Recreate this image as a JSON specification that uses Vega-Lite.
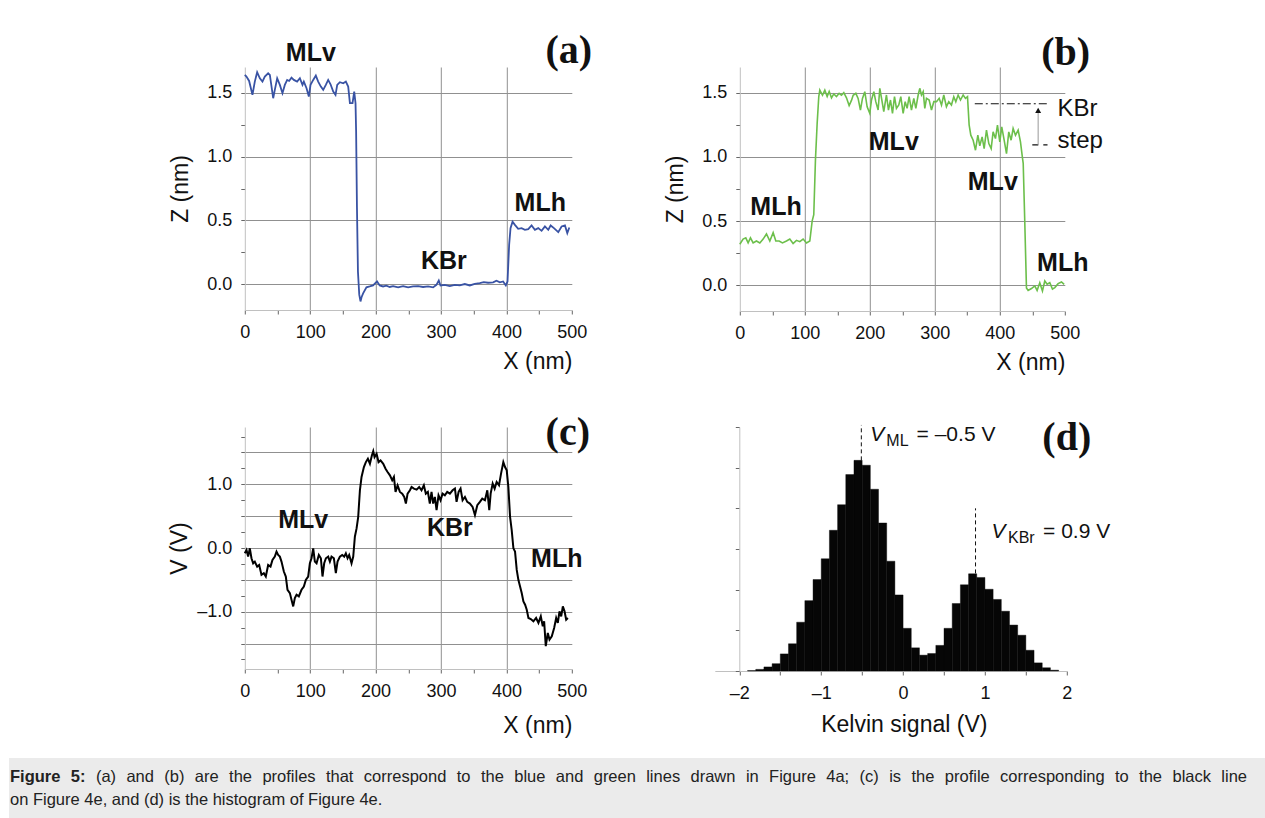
{
 "$schema": "https://vega.github.io/schema/vega-lite/v6.json",
 "background": "white",
 "padding": {"left": 9, "top": 30, "right": 0, "bottom": 0},
 "config": {
  "view": {"stroke": null},
  "font": "Liberation Sans",
  "text": {"align": "left", "baseline": "middle", "fontSize": 16.5, "color": "#222"},
  "axis": {"labelFont": "Liberation Sans", "labelFontSize": 18, "labelColor": "#111", "labelPadding": 9, "labelFlush": false, "labelOverlap": false,
           "titleFont": "Liberation Sans", "titleFontSize": 23, "titleFontWeight": "normal", "titleColor": "#111",
           "tickSize": 4, "tickColor": "#666", "domainColor": "#c0c0c0", "gridColor": "#909090", "gridWidth": 1}
 },
 "datasets": {
  "a": [{"x":0,"y":1.638},{"x":2.5,"y":1.625},{"x":6.6,"y":1.591},{"x":11.7,"y":1.482},{"x":15.3,"y":1.586},{"x":18.9,"y":1.659},{"x":23,"y":1.612},{"x":27,"y":1.586},{"x":30.6,"y":1.625},{"x":35.7,"y":1.651},{"x":38.3,"y":1.638},{"x":43.4,"y":1.456},{"x":45.9,"y":1.521},{"x":49.5,"y":1.612},{"x":53.6,"y":1.56},{"x":57.6,"y":1.495},{"x":61.2,"y":1.56},{"x":64.8,"y":1.599},{"x":67.8,"y":1.591},{"x":71.4,"y":1.617},{"x":75,"y":1.599},{"x":80,"y":1.586},{"x":84.2,"y":1.612},{"x":88.2,"y":1.56},{"x":90.3,"y":1.586},{"x":94.4,"y":1.534},{"x":97.9,"y":1.469},{"x":100.5,"y":1.56},{"x":104.6,"y":1.599},{"x":108.6,"y":1.633},{"x":112.2,"y":1.586},{"x":116.3,"y":1.547},{"x":119.9,"y":1.521},{"x":123.9,"y":1.56},{"x":127.5,"y":1.599},{"x":131.1,"y":1.565},{"x":135.2,"y":1.508},{"x":138.7,"y":1.482},{"x":141.3,"y":1.56},{"x":145.4,"y":1.581},{"x":150.5,"y":1.573},{"x":154.5,"y":1.586},{"x":158.1,"y":1.547},{"x":160.7,"y":1.417},{"x":164.7,"y":1.417},{"x":167.3,"y":1.508},{"x":169.3,"y":1.417},{"x":170.2,"y":1.2},{"x":171.5,"y":0.6},{"x":173,"y":0.1},{"x":175,"y":-0.08},{"x":176.9,"y":-0.133},{"x":178.5,"y":-0.1},{"x":180.9,"y":-0.07},{"x":186,"y":-0.023},{"x":191,"y":-0.016},{"x":196.1,"y":-0.008},{"x":202.2,"y":0.023},{"x":206.3,"y":-0.008},{"x":211.4,"y":-0.016},{"x":216.5,"y":-0.01},{"x":221.6,"y":-0.02},{"x":226.7,"y":-0.013},{"x":234.4,"y":-0.023},{"x":242,"y":-0.013},{"x":249.7,"y":-0.023},{"x":257.3,"y":-0.016},{"x":265,"y":-0.013},{"x":272.6,"y":-0.02},{"x":280.3,"y":-0.016},{"x":287.9,"y":-0.023},{"x":293,"y":-0.003},{"x":296.6,"y":0.031},{"x":299.2,"y":-0.008},{"x":305.8,"y":-0.003},{"x":313.5,"y":-0.013},{"x":321.1,"y":-0.003},{"x":328.7,"y":-0.008},{"x":336.4,"y":0.003},{"x":344,"y":-0.008},{"x":351.6,"y":0.005},{"x":359.3,"y":0.01},{"x":365.4,"y":0.018},{"x":372,"y":0.013},{"x":379.7,"y":0.016},{"x":384.8,"y":0.029},{"x":389.9,"y":0.016},{"x":395,"y":0.023},{"x":399.1,"y":-0.008},{"x":401.7,"y":0.023},{"x":404.2,"y":0.31},{"x":406.3,"y":0.44},{"x":409.4,"y":0.49},{"x":413,"y":0.466},{"x":418,"y":0.435},{"x":423.2,"y":0.44},{"x":428.3,"y":0.427},{"x":433.4,"y":0.432},{"x":438.5,"y":0.461},{"x":443.6,"y":0.427},{"x":448.7,"y":0.44},{"x":453.8,"y":0.419},{"x":458.9,"y":0.453},{"x":464,"y":0.427},{"x":467.6,"y":0.461},{"x":472.7,"y":0.44},{"x":479.3,"y":0.409},{"x":484.4,"y":0.453},{"x":489.5,"y":0.461},{"x":493.1,"y":0.401},{"x":496.2,"y":0.445}],
  "b": [{"x":0,"y":0.32},{"x":5.1,"y":0.36},{"x":9.2,"y":0.37},{"x":12.8,"y":0.33},{"x":16.4,"y":0.37},{"x":20.5,"y":0.33},{"x":25.6,"y":0.345},{"x":30.8,"y":0.33},{"x":35.9,"y":0.36},{"x":41,"y":0.4},{"x":46.2,"y":0.345},{"x":51.3,"y":0.41},{"x":55.4,"y":0.345},{"x":60.5,"y":0.345},{"x":65.6,"y":0.33},{"x":71.8,"y":0.345},{"x":76.9,"y":0.36},{"x":82,"y":0.325},{"x":87.2,"y":0.35},{"x":92.3,"y":0.34},{"x":97.4,"y":0.36},{"x":102.6,"y":0.33},{"x":107.7,"y":0.345},{"x":111.3,"y":0.5},{"x":113.8,"y":0.55},{"x":116.4,"y":0.98},{"x":119,"y":1.26},{"x":121.5,"y":1.47},{"x":123.1,"y":1.52},{"x":127.2,"y":1.48},{"x":130.8,"y":1.52},{"x":134.4,"y":1.47},{"x":137.5,"y":1.51},{"x":141.1,"y":1.46},{"x":144.6,"y":1.49},{"x":148.7,"y":1.47},{"x":152.8,"y":1.495},{"x":156.4,"y":1.48},{"x":160,"y":1.5},{"x":164.1,"y":1.46},{"x":168.2,"y":1.4},{"x":171.8,"y":1.44},{"x":174.4,"y":1.48},{"x":178.5,"y":1.495},{"x":182,"y":1.455},{"x":185.6,"y":1.365},{"x":188.7,"y":1.455},{"x":192.3,"y":1.508},{"x":195.9,"y":1.39},{"x":200,"y":1.339},{"x":202.6,"y":1.443},{"x":206.2,"y":1.508},{"x":209.2,"y":1.43},{"x":212.8,"y":1.365},{"x":215.4,"y":1.534},{"x":218.5,"y":1.443},{"x":221.5,"y":1.352},{"x":225.6,"y":1.482},{"x":228.7,"y":1.365},{"x":231.8,"y":1.443},{"x":234.9,"y":1.339},{"x":238,"y":1.469},{"x":241,"y":1.378},{"x":244.6,"y":1.404},{"x":247.7,"y":1.469},{"x":251.3,"y":1.339},{"x":254.4,"y":1.43},{"x":257.4,"y":1.378},{"x":260.5,"y":1.469},{"x":264.1,"y":1.365},{"x":267.7,"y":1.456},{"x":270.8,"y":1.378},{"x":274.4,"y":1.482},{"x":276.9,"y":1.534},{"x":279.5,"y":1.482},{"x":282.1,"y":1.508},{"x":284.6,"y":1.378},{"x":287.2,"y":1.456},{"x":291.3,"y":1.443},{"x":294.9,"y":1.365},{"x":298.5,"y":1.43},{"x":302.6,"y":1.43},{"x":306.7,"y":1.456},{"x":310.3,"y":1.404},{"x":313.8,"y":1.482},{"x":317.9,"y":1.391},{"x":321.5,"y":1.43},{"x":325.6,"y":1.404},{"x":329.2,"y":1.469},{"x":332.3,"y":1.43},{"x":335.9,"y":1.482},{"x":339.5,"y":1.443},{"x":343.6,"y":1.482},{"x":347.2,"y":1.456},{"x":350.3,"y":1.469},{"x":352.8,"y":1.25},{"x":355.4,"y":1.169},{"x":359,"y":1.13},{"x":362.6,"y":1.052},{"x":366.2,"y":1.169},{"x":369.2,"y":1.086},{"x":372.8,"y":1.156},{"x":375.9,"y":1.065},{"x":379.5,"y":1.208},{"x":383.1,"y":1.104},{"x":386.7,"y":1.065},{"x":389.7,"y":1.195},{"x":393.3,"y":1.143},{"x":396.4,"y":1.247},{"x":400,"y":1.117},{"x":403,"y":1.234},{"x":406.7,"y":1.13},{"x":410.3,"y":1.026},{"x":413.8,"y":1.195},{"x":417.4,"y":1.13},{"x":420.5,"y":1.221},{"x":424.1,"y":1.169},{"x":428.2,"y":1.208},{"x":431.8,"y":1.117},{"x":434.9,"y":0.99},{"x":436,"y":0.95},{"x":438.5,"y":0.478},{"x":441,"y":-0.02},{"x":443.6,"y":-0.04},{"x":448.7,"y":-0.025},{"x":453.8,"y":-0.005},{"x":457.4,"y":-0.04},{"x":461.5,"y":0.02},{"x":465.6,"y":-0.044},{"x":469.2,"y":0.034},{"x":472.8,"y":0.008},{"x":476.9,"y":0.02},{"x":481,"y":-0.03},{"x":484.6,"y":-0.018},{"x":489.7,"y":0.013},{"x":494.9,"y":0.026},{"x":499,"y":0.008}],
  "c": [{"x":0,"y":-0.083},{"x":2.6,"y":-0.031},{"x":5.1,"y":-0.135},{"x":7.7,"y":-0.005},{"x":10.2,"y":-0.161},{"x":12.8,"y":-0.24},{"x":15.3,"y":-0.214},{"x":18.9,"y":-0.292},{"x":22,"y":-0.266},{"x":25.5,"y":-0.422},{"x":29.1,"y":-0.396},{"x":32.1,"y":-0.448},{"x":35.7,"y":-0.266},{"x":39.3,"y":-0.292},{"x":42.3,"y":-0.188},{"x":45.9,"y":-0.135},{"x":48.5,"y":-0.057},{"x":51,"y":-0.109},{"x":53.6,"y":-0.135},{"x":56.1,"y":-0.214},{"x":59.7,"y":-0.37},{"x":62.7,"y":-0.448},{"x":65.3,"y":-0.656},{"x":68.9,"y":-0.708},{"x":71.4,"y":-0.813},{"x":74,"y":-0.917},{"x":76.5,"y":-0.786},{"x":79.1,"y":-0.734},{"x":82.6,"y":-0.76},{"x":86.7,"y":-0.656},{"x":90.3,"y":-0.604},{"x":93.3,"y":-0.5},{"x":96.9,"y":-0.448},{"x":99.5,"y":-0.24},{"x":102,"y":-0.161},{"x":104.6,"y":-0.005},{"x":107.1,"y":-0.214},{"x":109.7,"y":-0.24},{"x":113.2,"y":-0.109},{"x":116.3,"y":-0.161},{"x":118.8,"y":-0.448},{"x":121.4,"y":-0.24},{"x":124,"y":-0.161},{"x":127.5,"y":-0.135},{"x":130.1,"y":-0.214},{"x":132.6,"y":-0.135},{"x":136.2,"y":-0.161},{"x":139.2,"y":-0.396},{"x":141.8,"y":-0.214},{"x":145.4,"y":-0.135},{"x":148.9,"y":-0.109},{"x":152,"y":-0.135},{"x":154.5,"y":-0.083},{"x":157.1,"y":-0.161},{"x":159.6,"y":-0.109},{"x":163.2,"y":-0.24},{"x":165.8,"y":-0.135},{"x":168.3,"y":0.177},{"x":170.9,"y":0.307},{"x":173.4,"y":0.49},{"x":176,"y":0.906},{"x":178.5,"y":1.115},{"x":182.1,"y":1.271},{"x":185.1,"y":1.349},{"x":188.2,"y":1.401},{"x":191.3,"y":1.323},{"x":194.3,"y":1.453},{"x":196.4,"y":1.521},{"x":198.4,"y":1.427},{"x":201.5,"y":1.479},{"x":204.5,"y":1.349},{"x":207.6,"y":1.375},{"x":211.7,"y":1.323},{"x":215.2,"y":1.245},{"x":218.3,"y":1.193},{"x":221.9,"y":1.141},{"x":225.4,"y":1.063},{"x":228,"y":1.115},{"x":230.5,"y":0.88},{"x":233.6,"y":0.984},{"x":237.2,"y":0.88},{"x":240.7,"y":0.854},{"x":243.8,"y":0.802},{"x":246.3,"y":0.698},{"x":248.9,"y":0.854},{"x":252.5,"y":0.906},{"x":255,"y":0.958},{"x":258.6,"y":0.932},{"x":262.7,"y":0.917},{"x":266.6,"y":0.958},{"x":270.2,"y":0.906},{"x":273.8,"y":0.984},{"x":276.8,"y":0.854},{"x":279.9,"y":0.88},{"x":282.9,"y":0.698},{"x":285.5,"y":0.88},{"x":288,"y":0.698},{"x":290.6,"y":0.802},{"x":293.2,"y":0.594},{"x":296.2,"y":0.828},{"x":299.3,"y":0.75},{"x":302.4,"y":0.854},{"x":305.9,"y":0.828},{"x":309.5,"y":0.88},{"x":313.6,"y":0.854},{"x":317.7,"y":0.906},{"x":321.3,"y":0.932},{"x":323.8,"y":0.724},{"x":326.9,"y":0.88},{"x":329.9,"y":0.932},{"x":333,"y":0.75},{"x":336.6,"y":0.802},{"x":340.1,"y":0.724},{"x":344.2,"y":0.698},{"x":348.3,"y":0.646},{"x":351.9,"y":0.516},{"x":355.5,"y":0.672},{"x":359.5,"y":0.724},{"x":363.1,"y":0.776},{"x":367.2,"y":0.75},{"x":370.8,"y":0.906},{"x":373.8,"y":0.594},{"x":375.9,"y":0.854},{"x":379,"y":1.011},{"x":382,"y":0.932},{"x":385.1,"y":1.036},{"x":388.7,"y":0.984},{"x":391.8,"y":1.167},{"x":395.3,"y":1.349},{"x":397.9,"y":1.271},{"x":400.5,"y":1.219},{"x":403,"y":0.958},{"x":405.6,"y":0.49},{"x":408.1,"y":0.281},{"x":410.7,"y":-0.005},{"x":413.2,"y":-0.057},{"x":415.8,"y":-0.344},{"x":418.3,"y":-0.5},{"x":420.9,"y":-0.604},{"x":423.4,"y":-0.708},{"x":426,"y":-0.839},{"x":428.6,"y":-0.891},{"x":431.1,"y":-0.969},{"x":433.7,"y":-1.099},{"x":437.3,"y":-1.115},{"x":441.3,"y":-1.151},{"x":445.4,"y":-1.099},{"x":449,"y":-1.177},{"x":452.6,"y":-1.073},{"x":455.6,"y":-1.229},{"x":457.7,"y":-1.151},{"x":460.2,"y":-1.542},{"x":463.3,"y":-1.333},{"x":465.9,"y":-1.438},{"x":469.4,"y":-1.385},{"x":473,"y":-1.255},{"x":476.1,"y":-1.099},{"x":478.6,"y":-1.177},{"x":481.2,"y":-0.995},{"x":483.8,"y":-1.073},{"x":486.3,"y":-0.917},{"x":488.9,"y":-0.995},{"x":491.4,"y":-1.125},{"x":494,"y":-1.099}],
  "hist": [{"x":-1.9,"x2":-1.8,"y":0.01},{"x":-1.8,"x2":-1.7,"y":0.04},{"x":-1.7,"x2":-1.6,"y":0.10},{"x":-1.6,"x2":-1.5,"y":0.18},{"x":-1.5,"x2":-1.4,"y":0.42},{"x":-1.4,"x2":-1.3,"y":0.67},{"x":-1.3,"x2":-1.2,"y":1.20},{"x":-1.2,"x2":-1.1,"y":1.73},{"x":-1.1,"x2":-1.0,"y":2.25},{"x":-1.0,"x2":-0.9,"y":2.76},{"x":-0.9,"x2":-0.8,"y":3.46},{"x":-0.8,"x2":-0.7,"y":4.09},{"x":-0.7,"x2":-0.6,"y":4.83},{"x":-0.6,"x2":-0.5,"y":5.18},{"x":-0.5,"x2":-0.4,"y":5.06},{"x":-0.4,"x2":-0.3,"y":4.47},{"x":-0.3,"x2":-0.2,"y":3.64},{"x":-0.2,"x2":-0.1,"y":2.70},{"x":-0.1,"x2":0.0,"y":1.87},{"x":0.0,"x2":0.1,"y":1.05},{"x":0.1,"x2":0.2,"y":0.57},{"x":0.2,"x2":0.3,"y":0.39},{"x":0.3,"x2":0.4,"y":0.43},{"x":0.4,"x2":0.5,"y":0.63},{"x":0.5,"x2":0.6,"y":1.05},{"x":0.6,"x2":0.7,"y":1.66},{"x":0.7,"x2":0.8,"y":2.12},{"x":0.8,"x2":0.9,"y":2.39},{"x":0.9,"x2":1.0,"y":2.30},{"x":1.0,"x2":1.1,"y":2.01},{"x":1.1,"x2":1.2,"y":1.76},{"x":1.2,"x2":1.3,"y":1.47},{"x":1.3,"x2":1.4,"y":1.13},{"x":1.4,"x2":1.5,"y":0.88},{"x":1.5,"x2":1.6,"y":0.51},{"x":1.6,"x2":1.7,"y":0.20},{"x":1.7,"x2":1.8,"y":0.08},{"x":1.8,"x2":1.9,"y":0.02}],
  "cap": [{"line":1,"k":"w0","t":"Figure"},{"line":1,"k":"w1","t":"5:"},{"line":1,"k":"w2","t":"(a)"},{"line":1,"k":"w3","t":"and"},{"line":1,"k":"w4","t":"(b)"},{"line":1,"k":"w5","t":"are"},{"line":1,"k":"w6","t":"the"},{"line":1,"k":"w7","t":"profiles"},{"line":1,"k":"w8","t":"that"},{"line":1,"k":"w9","t":"correspond"},{"line":1,"k":"w10","t":"to"},{"line":1,"k":"w11","t":"the"},{"line":1,"k":"w12","t":"blue"},{"line":1,"k":"w13","t":"and"},{"line":1,"k":"w14","t":"green"},{"line":1,"k":"w15","t":"lines"},{"line":1,"k":"w16","t":"drawn"},{"line":1,"k":"w17","t":"in"},{"line":1,"k":"w18","t":"Figure"},{"line":1,"k":"w19","t":"4a;"},{"line":1,"k":"w20","t":"(c)"},{"line":1,"k":"w21","t":"is"},{"line":1,"k":"w22","t":"the"},{"line":1,"k":"w23","t":"profile"},{"line":1,"k":"w24","t":"corresponding"},{"line":1,"k":"w25","t":"to"},{"line":1,"k":"w26","t":"the"},{"line":1,"k":"w27","t":"black"},{"line":1,"k":"w28","t":"line"},{"line":2,"k":"r2","t":"on Figure 4e, and (d) is the histogram of Figure 4e."}]
 },
 "spacing": 21,
 "center": true,
 "vconcat": [
  {
   "spacing": 38,
   "vconcat": [
    {
     "bounds": "flush",
     "spacing": 168,
     "hconcat": [
      {
       "width": 327, "height": 243,
       "encoding": {
        "x": {"field": "x", "type": "quantitative", "scale": {"domain": [0, 500], "nice": false, "zero": false},
              "axis": {"values": [0,50,100,150,200,250,300,350,400,450,500], "labelExpr": "datum.value % 100 == 0 ? datum.label : ''", "grid": true,
                       "gridOpacity": {"condition": {"test": "datum.value % 100 != 0 || datum.value == 0 || datum.value == 500", "value": 0}, "value": 1},
                       "title": "X (nm)", "titleAnchor": "end", "titlePadding": 9}},
        "y": {"field": "y", "type": "quantitative", "scale": {"domain": [-0.2, 1.7], "nice": false, "zero": false},
              "axis": {"values": [0,0.25,0.5,0.75,1,1.25,1.5], "labelExpr": "datum.value % 0.5 == 0 ? format(datum.value, '.1f') : ''", "grid": true,
                       "gridOpacity": {"condition": {"test": "datum.value % 0.5 != 0", "value": 0}, "value": 1},
                       "title": "Z (nm)", "titlePadding": 14}}
       },
       "layer": [
        {"data": {"name": "a"}, "mark": {"type": "line", "color": "#3953a4", "strokeWidth": 1.8}},
        {"data": {"values": [{"x": 101, "y": 1.807, "t": "MLv"}, {"x": 304.3, "y": 0.18, "t": "KBr"}, {"x": 451.8, "y": 0.64, "t": "MLh"}]},
         "mark": {"type": "text", "fontSize": 25, "fontWeight": "bold", "baseline": "middle", "align": "center", "color": "#111"},
         "encoding": {"text": {"field": "t"}}},
        {"data": {"values": [{"x": 495.4, "y": 1.828, "t": "(a)"}]},
         "mark": {"type": "text", "font": "Liberation Serif", "fontSize": 40, "fontWeight": "bold", "baseline": "middle", "align": "center", "color": "#111"},
         "encoding": {"text": {"field": "t"}}}
       ]
      },
      {
       "width": 325, "height": 244,
       "encoding": {
        "x": {"field": "x", "type": "quantitative", "scale": {"domain": [0, 500], "nice": false, "zero": false},
              "axis": {"values": [0,50,100,150,200,250,300,350,400,450,500], "labelExpr": "datum.value % 100 == 0 ? datum.label : ''", "grid": true,
                       "gridOpacity": {"condition": {"test": "datum.value % 100 != 0 || datum.value == 0 || datum.value == 500", "value": 0}, "value": 1},
                       "title": "X (nm)", "titleAnchor": "end", "titlePadding": 9}},
        "y": {"field": "y", "type": "quantitative", "scale": {"domain": [-0.2, 1.7], "nice": false, "zero": false},
              "axis": {"values": [0,0.25,0.5,0.75,1,1.25,1.5], "labelExpr": "datum.value % 0.5 == 0 ? format(datum.value, '.1f') : ''", "grid": true,
                       "gridOpacity": {"condition": {"test": "datum.value % 0.5 != 0", "value": 0}, "value": 1},
                       "title": "Z (nm)", "titlePadding": 14}}
       },
       "layer": [
        {"data": {"name": "b"}, "mark": {"type": "line", "color": "#6cbf4b", "strokeWidth": 1.6}},
        {"data": {"values": [{"x": 361.5, "x2": 474.4, "y": 1.414}]}, "mark": {"type": "rule", "color": "#111", "strokeWidth": 1.2, "strokeDash": [8, 3, 2, 3]}, "encoding": {"x2": {"field": "x2"}}},
        {"data": {"values": [{"x": 450, "x2": 473.4, "y": 1.094}]}, "mark": {"type": "rule", "color": "#111", "strokeWidth": 1.2, "strokeDash": [6, 5]}, "encoding": {"x2": {"field": "x2"}}},
        {"data": {"values": [{"x": 459, "y": 1.094, "y2": 1.36}]}, "mark": {"type": "rule", "color": "#999", "strokeWidth": 1}, "encoding": {"y2": {"field": "y2"}}},
        {"data": {"values": [{"x": 459, "y": 1.362}]}, "mark": {"type": "point", "shape": "triangle-up", "filled": true, "size": 35, "color": "#111", "opacity": 1}, "encoding": {}},
        {"data": {"values": [{"x": 55.7, "y": 0.607, "t": "MLh"}, {"x": 236.9, "y": 1.115, "t": "MLv"}, {"x": 389.2, "y": 0.802, "t": "MLv"}, {"x": 496.9, "y": 0.172, "t": "MLh"}]},
         "mark": {"type": "text", "fontSize": 25, "fontWeight": "bold", "baseline": "middle", "align": "center", "color": "#111"},
         "encoding": {"text": {"field": "t"}}},
        {"data": {"values": [{"x": 488.7, "y": 1.375, "t": "KBr"}, {"x": 488.7, "y": 1.125, "t": "step"}]},
         "mark": {"type": "text", "fontSize": 24, "baseline": "middle", "align": "left", "color": "#111"},
         "encoding": {"text": {"field": "t"}}},
        {"data": {"values": [{"x": 501.3, "y": 1.8125, "t": "(b)"}]},
         "mark": {"type": "text", "font": "Liberation Serif", "fontSize": 40, "fontWeight": "bold", "baseline": "middle", "align": "center", "color": "#111"},
         "encoding": {"text": {"field": "t"}}}
       ]
      }
     ]
    },
    {
     "bounds": "flush",
     "spacing": 143,
     "hconcat": [
      {
       "width": 327, "height": 242,
       "encoding": {
        "x": {"field": "x", "type": "quantitative", "scale": {"domain": [0, 500], "nice": false, "zero": false},
              "axis": {"values": [0,50,100,150,200,250,300,350,400,450,500], "labelExpr": "datum.value % 100 == 0 ? datum.label : ''", "grid": true,
                       "gridOpacity": {"condition": {"test": "datum.value % 100 != 0 || datum.value == 0 || datum.value == 500", "value": 0}, "value": 1},
                       "title": "X (nm)", "titleAnchor": "end", "titlePadding": 14}},
        "y": {"field": "y", "type": "quantitative", "scale": {"domain": [-1.9, 1.9], "nice": false, "zero": false},
              "axis": {"values": [-1.75,-1.5,-1.25,-1,-0.75,-0.5,-0.25,0,0.25,0.5,0.75,1,1.25,1.5,1.75],
                       "labelExpr": "datum.value % 1 == 0 ? (datum.value < 0 ? '–' : '') + format(abs(datum.value), '.1f') : ''", "grid": true,
                       "gridOpacity": {"condition": {"test": "datum.value % 0.5 != 0", "value": 0}, "value": 1},
                       "title": "V (V)", "titlePadding": 5}}
       },
       "layer": [
        {"data": {"name": "c"}, "mark": {"type": "line", "color": "#000", "strokeWidth": 2}},
        {"data": {"values": [{"x": 89.2, "y": 0.4375, "t": "MLv"}, {"x": 313.5, "y": 0.307, "t": "KBr"}, {"x": 477, "y": -0.17, "t": "MLh"}]},
         "mark": {"type": "text", "fontSize": 25, "fontWeight": "bold", "baseline": "middle", "align": "center", "color": "#111"},
         "encoding": {"text": {"field": "t"}}},
        {"data": {"values": [{"x": 493.9, "y": 1.806, "t": "(c)"}]},
         "mark": {"type": "text", "font": "Liberation Serif", "fontSize": 40, "fontWeight": "bold", "baseline": "middle", "align": "center", "color": "#111"},
         "encoding": {"text": {"field": "t"}}}
       ]
      },
      {
       "width": 352, "height": 244,
       "encoding": {
        "x": {"field": "x", "type": "quantitative", "scale": {"domain": [-2.3, 2.0], "nice": false, "zero": false},
              "axis": {"values": [-2,-1.5,-1,-0.5,0,0.5,1,1.5,2],
                       "labelExpr": "datum.value % 1 == 0 ? (datum.value < 0 ? '–' : '') + format(abs(datum.value), 'd') : ''", "grid": false,
                       "title": "Kelvin signal (V)", "titleX": 189, "titlePadding": 11}},
        "y": {"field": "y", "type": "quantitative", "scale": {"domain": [0, 6], "nice": false, "zero": false},
              "axis": {"values": [0,1,2,3,4,5,6], "labels": false, "grid": false, "title": null, "offset": -24.5}}
       },
       "layer": [
        {"data": {"name": "hist"}, "mark": {"type": "rect", "color": "#060606", "stroke": "#060606", "strokeWidth": 0.4}, "encoding": {"x2": {"field": "x2"}, "y2": {"datum": 0}}},
        {"data": {"values": [{"x": -0.51, "y": 5.18, "y2": 6.05}, {"x": 0.885, "y": 2.4, "y2": 4.0}]}, "mark": {"type": "rule", "color": "#111", "strokeWidth": 1, "strokeDash": [4, 3]}, "encoding": {"y2": {"field": "y2"}}},
        {"data": {"values": [{"x": -0.401, "y": 5.655, "t": "V"}, {"x": 1.079, "y": 3.27, "t": "V"}]},
         "mark": {"type": "text", "fontSize": 21, "fontStyle": "italic", "baseline": "alphabetic", "align": "left", "color": "#111"},
         "encoding": {"text": {"field": "t"}}},
        {"data": {"values": [{"x": -0.205, "y": 5.532, "t": "ML"}, {"x": 1.282, "y": 3.147, "t": "KBr"}]},
         "mark": {"type": "text", "fontSize": 16, "baseline": "alphabetic", "align": "left", "color": "#111"},
         "encoding": {"text": {"field": "t"}}},
        {"data": {"values": [{"x": 0.165, "y": 5.655, "t": "= –0.5 V"}, {"x": 1.71, "y": 3.27, "t": "= 0.9 V"}]},
         "mark": {"type": "text", "fontSize": 21, "baseline": "alphabetic", "align": "left", "color": "#111"},
         "encoding": {"text": {"field": "t"}}},
        {"data": {"values": [{"x": 2.0, "y": 5.73, "t": "(d)"}]},
         "mark": {"type": "text", "font": "Liberation Serif", "fontSize": 40, "fontWeight": "bold", "baseline": "middle", "align": "center", "color": "#111"},
         "encoding": {"text": {"field": "t"}}}
       ]
      }
     ]
    }
   ]
  },
  {
   "width": 1337, "height": 61,
   "view": {"fill": "#ebebeb", "stroke": null},
   "data": {"name": "cap"},
   "encoding": {
    "x": {"datum": 0, "type": "quantitative", "scale": {"domain": [0, 1]}, "axis": null},
    "y": {"field": "line", "type": "ordinal", "scale": {"type": "point", "padding": 0.8}, "axis": null},
    "text": {"field": "t"}
   },
   "layer": [
    {"transform": [{"filter": "datum.k == 'w0'"}], "mark": {"type": "text", "fontWeight": "bold", "dx": 1}},
    {"transform": [{"filter": "datum.k == 'w1'"}], "mark": {"type": "text", "fontWeight": "bold", "dx": 61.8}},
    {"transform": [{"filter": "datum.k == 'w2'"}], "mark": {"type": "text", "dx": 86.9}},
    {"transform": [{"filter": "datum.k == 'w3'"}], "mark": {"type": "text", "dx": 117.4}},
    {"transform": [{"filter": "datum.k == 'w4'"}], "mark": {"type": "text", "dx": 155.3}},
    {"transform": [{"filter": "datum.k == 'w5'"}], "mark": {"type": "text", "dx": 185.8}},
    {"transform": [{"filter": "datum.k == 'w6'"}], "mark": {"type": "text", "dx": 220.1}},
    {"transform": [{"filter": "datum.k == 'w7'"}], "mark": {"type": "text", "dx": 253.4}},
    {"transform": [{"filter": "datum.k == 'w8'"}], "mark": {"type": "text", "dx": 316.9}},
    {"transform": [{"filter": "datum.k == 'w9'"}], "mark": {"type": "text", "dx": 354.8}},
    {"transform": [{"filter": "datum.k == 'w10'"}], "mark": {"type": "text", "dx": 447.7}},
    {"transform": [{"filter": "datum.k == 'w11'"}], "mark": {"type": "text", "dx": 471.9}},
    {"transform": [{"filter": "datum.k == 'w12'"}], "mark": {"type": "text", "dx": 505.2}},
    {"transform": [{"filter": "datum.k == 'w13'"}], "mark": {"type": "text", "dx": 546.8}},
    {"transform": [{"filter": "datum.k == 'w14'"}], "mark": {"type": "text", "dx": 584.7}},
    {"transform": [{"filter": "datum.k == 'w15'"}], "mark": {"type": "text", "dx": 637.2}},
    {"transform": [{"filter": "datum.k == 'w16'"}], "mark": {"type": "text", "dx": 681.5}},
    {"transform": [{"filter": "datum.k == 'w17'"}], "mark": {"type": "text", "dx": 736.9}},
    {"transform": [{"filter": "datum.k == 'w18'"}], "mark": {"type": "text", "dx": 760.1}},
    {"transform": [{"filter": "datum.k == 'w19'"}], "mark": {"type": "text", "dx": 817.2}},
    {"transform": [{"filter": "datum.k == 'w20'"}], "mark": {"type": "text", "dx": 850.5}},
    {"transform": [{"filter": "datum.k == 'w21'"}], "mark": {"type": "text", "dx": 880.2}},
    {"transform": [{"filter": "datum.k == 'w22'"}], "mark": {"type": "text", "dx": 902.4}},
    {"transform": [{"filter": "datum.k == 'w23'"}], "mark": {"type": "text", "dx": 935.8}},
    {"transform": [{"filter": "datum.k == 'w24'"}], "mark": {"type": "text", "dx": 991.1}},
    {"transform": [{"filter": "datum.k == 'w25'"}], "mark": {"type": "text", "dx": 1106}},
    {"transform": [{"filter": "datum.k == 'w26'"}], "mark": {"type": "text", "dx": 1130.1}},
    {"transform": [{"filter": "datum.k == 'w27'"}], "mark": {"type": "text", "dx": 1163.5}},
    {"transform": [{"filter": "datum.k == 'w28'"}], "mark": {"type": "text", "dx": 1212.3}},
    {"transform": [{"filter": "datum.k == 'r2'"}], "mark": {"type": "text", "dx": 1}}
   ]
  }
 ]
}
